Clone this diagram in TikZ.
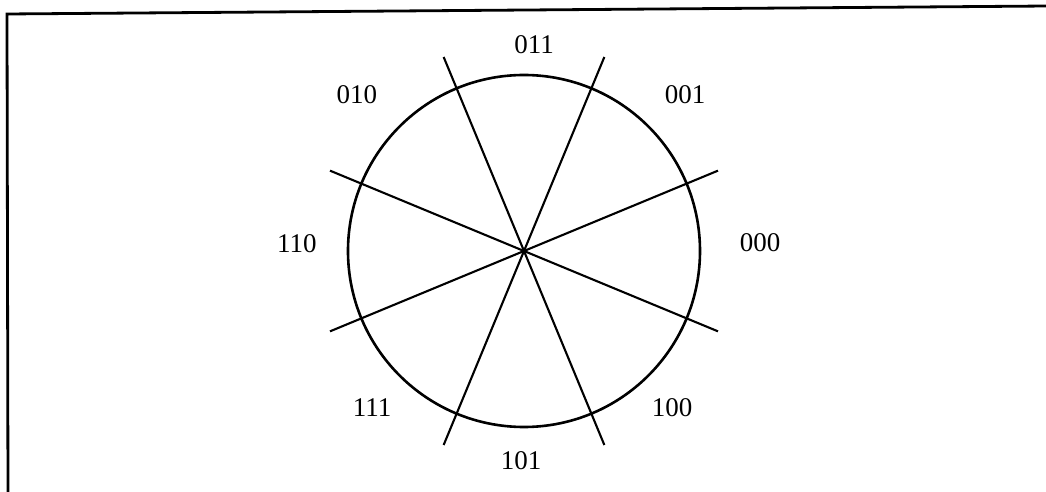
\documentclass[tikz,border=0pt]{standalone}
\usepackage{fontspec}
\setmainfont{Liberation Serif}
\usepackage{tikz}
\usetikzlibrary{calc}
\tikzset{
  frame/.style={line width=2.8pt},
  wheel/.style={line width=2.6pt},
  spoke/.style={line width=2.1pt},
  code/.style={font=\fontsize{27}{32}\selectfont,inner sep=0pt},
}
\begin{document}
\begin{tikzpicture}[x=1pt,y=1pt]
\useasboundingbox (-524,-241) rectangle (522,251);
\coordinate (o)  at (0,0);
\coordinate (tl) at (-517,237);
\coordinate (tr) at (524,245);
\coordinate (bl) at (-516,-243);
\draw[frame] (bl) -- (tl) -- (tr);
\draw[wheel] (o) circle[radius=176];
\foreach \a in {22.5,67.5,112.5,157.5}{
  \coordinate (s1) at (\a:210);
  \coordinate (s2) at (\a+180:210);
  \draw[spoke] (s1) -- (s2);
}
\node[code] (c011) at (10,206)    {011};
\node[code] (c001) at (161,156)   {001};
\node[code] (c000) at (236,8)     {000};
\node[code] (c100) at (148,-157)  {100};
\node[code] (c101) at (-3,-210)   {101};
\node[code] (c111) at (-152,-157) {111};
\node[code] (c110) at (-227,7)    {110};
\node[code] (c010) at (-167,156)  {010};
\end{tikzpicture}
\end{document}
